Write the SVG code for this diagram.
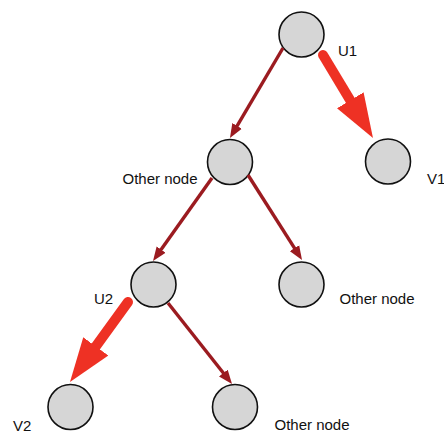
<svg xmlns="http://www.w3.org/2000/svg" width="444" height="434" viewBox="0 0 444 434">
  <style>
    .node circle { fill: #d6d6d6; stroke: #111; stroke-width: 1.6; }
    .label { font-family: "Liberation Sans", Arial, sans-serif; font-size: 15px; fill: #111; }
    .edge { stroke: #9b1b20; stroke-width: 3.4; fill: none; marker-end: url(#thinHead); }
    .path-edge { stroke: #ee3124; stroke-width: 10; stroke-linecap: round; fill: none; marker-end: url(#thickHead); }
  </style>
  <defs>
    <marker id="thinHead" markerUnits="userSpaceOnUse" markerWidth="14" markerHeight="12" refX="8" refY="6" orient="auto">
      <path d="M0,0.5 L14,6 L0,11.5 z" fill="#9b1b20"/>
    </marker>
    <marker id="thickHead" markerUnits="userSpaceOnUse" markerWidth="44" markerHeight="31" refX="14" refY="15.5" orient="auto">
      <path d="M0,0 L44,15.5 L0,31 z" fill="#ee3124"/>
    </marker>
  </defs>

  <rect width="444" height="434" fill="#ffffff"/>

  <!-- nodes -->
  <g id="u1" class="node">
    <circle cx="301.5" cy="34.5" r="22.5"/>
    <text class="label" x="338" y="56">U1</text>
  </g>
  <g id="v1" class="node">
    <circle cx="388" cy="161.5" r="22.5"/>
    <text class="label" x="427" y="184">V1</text>
  </g>
  <g id="other-a" class="node">
    <circle cx="230" cy="162" r="22.5"/>
    <text class="label" x="122.5" y="183.5">Other node</text>
  </g>
  <g id="u2" class="node">
    <circle cx="153.5" cy="284.5" r="22.5"/>
    <text class="label" x="94" y="304">U2</text>
  </g>
  <g id="other-b" class="node">
    <circle cx="301.5" cy="284.5" r="22.5"/>
    <text class="label" x="339.5" y="304">Other node</text>
  </g>
  <g id="v2" class="node">
    <circle cx="70.5" cy="407" r="22.5"/>
    <text class="label" x="13" y="431">V2</text>
  </g>
  <g id="other-c" class="node">
    <circle cx="235" cy="407" r="22.5"/>
    <text class="label" x="274.5" y="430">Other node</text>
  </g>

  <!-- connectors -->
  <g id="connectors">
    <line class="edge" x1="283" y1="48" x2="233" y2="132.8"/>
    <line class="edge" x1="212" y1="178" x2="156.5" y2="256.1"/>
    <line class="edge" x1="248" y1="175" x2="298.8" y2="254.9"/>
    <line class="edge" x1="168" y1="303" x2="228.3" y2="379.3"/>
    <line class="path-edge" x1="323" y1="55" x2="357.5" y2="112.3"/>
    <line class="path-edge" x1="128" y1="302" x2="87.6" y2="357.7"/>
  </g>
</svg>
